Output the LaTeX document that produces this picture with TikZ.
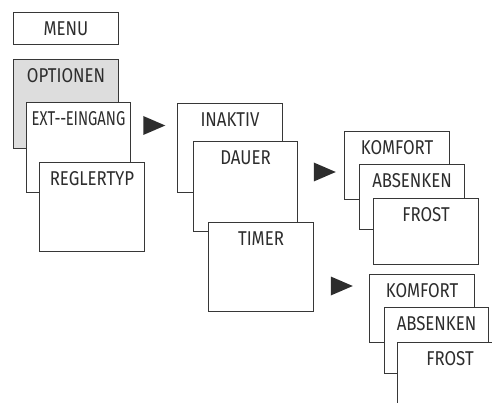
\documentclass[tikz,border=0pt]{standalone}
\usepackage{fontspec}
\setmainfont{Fira Sans}[FakeStretch=0.84]
\usetikzlibrary{shapes}
\usetikzlibrary{shapes.geometric}
\definecolor{linec}{RGB}{55,55,55}
\definecolor{textc}{RGB}{45,45,45}
\definecolor{boxg}{RGB}{221,221,221}
\tikzset{
    menubox/.style = {rectangle, draw=linec, line width=1pt, fill=white, anchor=north west, inner sep=0pt, minimum width=105pt, minimum height=89pt, label={[anchor=center, yshift=-17pt, text=textc, inner sep=0pt]north:#1}},
    menuboxg/.style = {menubox=#1, fill=boxg},
    menuboxs/.style = {menubox=#1, minimum height=66pt},
    arrowtri/.style = {isosceles triangle, isosceles triangle stretches, fill=textc, inner sep=0pt, minimum width=19pt, minimum height=22pt}
}
\begin{document}
\begin{tikzpicture}[x=1pt, y=-1pt, font=\fontsize{20}{22}\selectfont]
\clip (0,0) rectangle (492,403);
\fill[white] (0,0) rectangle (492,403);
\node[menubox=MENU, minimum height=32pt] at (13,12) (menu) {};
\node[menuboxg=OPTIONEN] at (13,59) (optionen) {};
\node[menubox={\scalebox{0.88}[1]{EXT\kern-0.5pt-\kern-0.5pt-\kern-0.5pt EINGANG}}, minimum width=104pt, minimum height=90pt] at (26,102) (ext) {};
\node[menubox=REGLERTYP] at (39,162) (regler) {};
%
\node[menubox=INAKTIV] at (177,103) (inaktiv) {};
\node[menubox=DAUER, minimum width=104pt, minimum height=90pt] at (193,141) (dauer) {};
\node[menubox=TIMER] at (208,222) (timer) {};
%
\node[menuboxs=KOMFORT, minimum height=68pt] at (344,131) (komfort1) {};
\node[menuboxs=ABSENKEN, minimum height=65pt] at (359,164) (absenken1) {};
\node[menuboxs=FROST] at (373,198) (frost1) {};
%
\node[menuboxs=KOMFORT, minimum height=68pt] at (369,274) (komfort2) {};
\node[menuboxs=ABSENKEN, minimum width=104pt] at (384,307) (absenken2) {};
\node[menuboxs=FROST] at (397,342) (frost2) {};
%
\node[arrowtri] at (149.5,125.5) (arr1) {};
\node[arrowtri] at (320,172) (arr2) {};
\node[arrowtri] at (337,286) (arr3) {};
\end{tikzpicture}
\end{document}
